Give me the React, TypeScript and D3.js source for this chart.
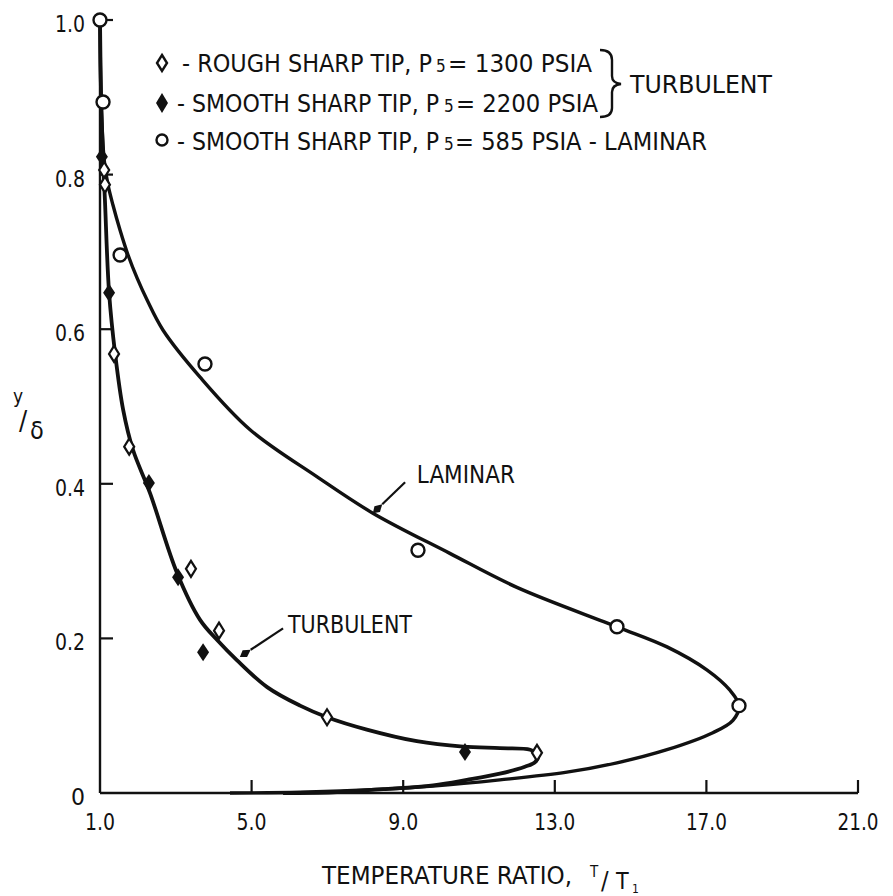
import React from "react";
import * as d3 from "d3";

// ---- axis ticks ----
const X_TICKS = [1, 5, 9, 13, 17, 21];
const X_TICK_LABELS = ["1.0", "5.0", "9.0", "13.0", "17.0", "21.0"];
const Y_TICKS = [0, 0.2, 0.4, 0.6, 0.8, 1.0];
const Y_TICK_LABELS = ["0", "0.2", "0.4", "0.6", "0.8", "1.0"];

// ---- faired curves: [T/T1, y/delta] ----
const laminarCurve: [number, number][] = [
  [1.0, 1.0], [1.03, 0.896], [1.11, 0.819], [1.21, 0.787], [1.34, 0.761],
  [1.53, 0.728], [1.74, 0.696], [1.98, 0.666], [2.24, 0.638], [2.66, 0.599],
  [3.64, 0.538], [4.96, 0.47], [6.73, 0.409], [8.2, 0.362], [10.23, 0.31],
  [12.0, 0.266], [14.64, 0.215], [15.96, 0.189], [17.02, 0.159], [17.62, 0.133],
  [17.86, 0.113], [17.7, 0.094], [17.17, 0.078], [15.96, 0.056], [14.64, 0.039],
  [13.32, 0.027], [11.55, 0.017], [9.79, 0.009], [8.47, 0.005], [6.28, 0.001],
  [4.43, 0.0],
];

const turbulentCurve: [number, number][] = [
  [1.0, 1.0], [1.03, 0.896], [1.08, 0.823], [1.13, 0.767], [1.24, 0.647],
  [1.4, 0.568], [1.61, 0.496], [1.87, 0.444], [2.32, 0.388], [3.03, 0.285],
  [3.64, 0.224], [4.11, 0.197], [4.61, 0.172], [5.41, 0.137], [6.28, 0.113],
  [6.99, 0.098], [8.04, 0.082], [9.36, 0.067], [10.58, 0.06], [11.55, 0.058],
  [12.35, 0.056], [12.56, 0.049], [12.48, 0.04], [12.21, 0.034], [11.55, 0.025],
  [10.68, 0.017], [9.79, 0.01], [8.47, 0.005], [7.15, 0.001], [5.83, 0.0],
];

// ---- data points ----
const laminarPoints: [number, number][] = [
  [1.0, 1.0], [1.08, 0.894], [1.53, 0.696], [3.77, 0.555], [9.39, 0.314],
  [14.64, 0.215], [17.86, 0.113],
];
const roughPoints: [number, number][] = [
  [1.11, 0.806], [1.13, 0.787], [1.37, 0.568], [1.77, 0.448], [3.4, 0.29],
  [4.14, 0.21], [6.99, 0.098], [12.53, 0.052],
];
const smoothTurbPoints: [number, number][] = [
  [1.05, 0.823], [1.24, 0.647], [2.29, 0.401], [3.06, 0.279], [3.72, 0.182],
  [10.63, 0.053],
];

// ---- legend text ----
const LEGEND_PRE = ["- ROUGH SHARP TIP, P", "- SMOOTH SHARP TIP, P", "- SMOOTH SHARP TIP, P"];
const LEGEND_SUB = ["5", "5", "5"];
const LEGEND_POST = ["= 1300 PSIA", "= 2200 PSIA", "= 585 PSIA - LAMINAR"];
const LEGEND_KIND = ["rough", "smooth", "laminar"];
const BRACE_LABEL = "TURBULENT";

const FONT = "'DejaVu Sans Condensed', 'Liberation Sans Narrow', 'DejaVu Sans', sans-serif";
const INK = "#111";

const W = 893;
const H = 896;

export default function App() {
  const x = d3.scaleLinear().domain([1, 21]).range([100, 858]);
  const y = d3.scaleLinear().domain([0, 1]).range([793, 20]);

  const line = d3
    .line<[number, number]>()
    .x((d) => x(d[0]))
    .y((d) => y(d[1]))
    .curve(d3.curveCatmullRom.alpha(0.5));

  const diamond = (hw: number, hh: number) =>
    `M0,${-hh} L${hw},0 L0,${hh} L${-hw},0 Z`;

  const arrow = (x1: number, y1: number, x2: number, y2: number, key: string) => {
    const dx = x2 - x1;
    const dy = y2 - y1;
    const L = Math.hypot(dx, dy);
    const ux = dx / L;
    const uy = dy / L;
    const px = -uy;
    const py = ux;
    const b1x = x2 - ux * 6;
    const b1y = y2 - uy * 6;
    const tx = x2 - ux * 13;
    const ty = y2 - uy * 13;
    const head = `M${x2},${y2} L${b1x + px * 4},${b1y + py * 4} L${tx},${ty} L${b1x - px * 4},${b1y - py * 4} Z`;
    return (
      <g key={key}>
        <line x1={x1} y1={y1} x2={tx} y2={ty} stroke={INK} strokeWidth={2.2} />
        <path d={head} fill={INK} />
      </g>
    );
  };

  // layout of the legend rows (pixels)
  const legendLayout = [
    { cy: 63, base: 72, preX: 182, preL: 250, subX: 436, postX: 448, postL: 144 },
    { cy: 103, base: 112, preX: 177, preL: 262, subX: 444, postX: 456, postL: 142 },
    { cy: 140, base: 150, preX: 177, preL: 262, subX: 444, postX: 455, postL: 252 },
  ];

  const tickLen = (s: string) => (s.length === 1 ? 14 : s.length === 3 ? 30 : 41);

  return (
    <svg
      width={W}
      height={H}
      viewBox={`0 0 ${W} ${H}`}
      style={{ position: "absolute", left: 0, top: 0, background: "#fff", display: "block" }}
      fontFamily={FONT}
    >
      <rect x={0} y={0} width={W} height={H} fill="#fff" />

      {/* axes */}
      <line x1={x(1)} y1={y(0)} x2={x(21)} y2={y(0)} stroke={INK} strokeWidth={2.6} />
      <line x1={x(1)} y1={y(0)} x2={x(1)} y2={y(1)} stroke={INK} strokeWidth={2.4} />
      {X_TICKS.slice(1).map((t) => (
        <line key={"xt" + t} x1={x(t)} x2={x(t)} y1={y(0)} y2={y(0) - 13} stroke={INK} strokeWidth={2.2} />
      ))}
      {Y_TICKS.slice(1).map((t) => (
        <line key={"yt" + t} x1={x(1)} x2={x(1) + 13} y1={y(t)} y2={y(t)} stroke={INK} strokeWidth={2.2} />
      ))}
      {X_TICKS.map((t, i) => (
        <text key={"xl" + t} x={x(t) - tickLen(X_TICK_LABELS[i]) / 2} y={830} fontSize={23} fill={INK}
          textLength={tickLen(X_TICK_LABELS[i])} lengthAdjust="spacingAndGlyphs">
          {X_TICK_LABELS[i]}
        </text>
      ))}
      {Y_TICKS.map((t, i) => (
        <text key={"yl" + t} x={85 - tickLen(Y_TICK_LABELS[i])} y={y(t) + 12} fontSize={23} fill={INK}
          textLength={tickLen(Y_TICK_LABELS[i])} lengthAdjust="spacingAndGlyphs">
          {Y_TICK_LABELS[i]}
        </text>
      ))}

      {/* axis titles */}
      <text x={322} y={884} fontSize={25} fill={INK} textLength={250} lengthAdjust="spacingAndGlyphs">
        TEMPERATURE RATIO,
      </text>
      <text x={590} y={877} fontSize={15} fill={INK}>T</text>
      <text x={601} y={889} fontSize={25} fill={INK}>/</text>
      <text x={616} y={889} fontSize={23} fill={INK}>T</text>
      <text x={632} y={893} fontSize={12} fill={INK}>1</text>

      <text x={13} y={403} fontSize={19} fill={INK}>y</text>
      <text x={19} y={430} fontSize={27} fill={INK}>/</text>
      <text x={30} y={439} fontSize={25} fill={INK}>δ</text>

      {/* curves */}
      <path d={line(turbulentCurve) || ""} fill="none" stroke={INK} strokeWidth={3.8} strokeLinejoin="round" />
      <path d={line(laminarCurve) || ""} fill="none" stroke={INK} strokeWidth={3.4} strokeLinejoin="round" />

      {/* markers */}
      {smoothTurbPoints.map((d, i) => (
        <path key={"s" + i} d={diamond(6, 9)} transform={`translate(${x(d[0])},${y(d[1])})`} fill={INK} />
      ))}
      {roughPoints.map((d, i) => (
        <path key={"r" + i} d={diamond(5, 8)} transform={`translate(${x(d[0])},${y(d[1])})`} fill="#fff" stroke={INK} strokeWidth={2.2} />
      ))}
      {laminarPoints.map((d, i) => (
        <circle key={"l" + i} cx={x(d[0])} cy={y(d[1])} r={6.5} fill="#fff" stroke={INK} strokeWidth={2.4} />
      ))}

      {/* annotations */}
      <text x={x(9.36)} y={y(0.401)} fontSize={24} fill={INK} textLength={98} lengthAdjust="spacingAndGlyphs">LAMINAR</text>
      {arrow(x(9.05), y(0.402), x(8.2), y(0.362), "la")}
      <text x={x(5.96)} y={y(0.207)} fontSize={24} fill={INK} textLength={124} lengthAdjust="spacingAndGlyphs">TURBULENT</text>
      {arrow(x(5.83), y(0.213), x(4.69), y(0.176), "ta")}

      {/* legend */}
      {legendLayout.map((l, i) => (
        <g key={"lg" + i}>
          {LEGEND_KIND[i] === "rough" && (
            <path d={diamond(5, 8)} transform={`translate(162,${l.cy})`} fill="#fff" stroke={INK} strokeWidth={2.4} />
          )}
          {LEGEND_KIND[i] === "smooth" && (
            <path d={diamond(6, 10)} transform={`translate(162,${l.cy})`} fill={INK} />
          )}
          {LEGEND_KIND[i] === "laminar" && (
            <circle cx={162} cy={l.cy} r={5.5} fill="#fff" stroke={INK} strokeWidth={2.4} />
          )}
          <text x={l.preX} y={l.base} fontSize={25} fill={INK} textLength={l.preL} lengthAdjust="spacingAndGlyphs">
            {LEGEND_PRE[i]}
          </text>
          <text x={l.subX} y={l.base} fontSize={17} fill={INK}>{LEGEND_SUB[i]}</text>
          <text x={l.postX} y={l.base} fontSize={25} fill={INK} textLength={l.postL} lengthAdjust="spacingAndGlyphs">
            {LEGEND_POST[i]}
          </text>
        </g>
      ))}
      <path
        d="M600,50 Q612,50 612,60 L612,76 Q612,83 621,84 Q612,85 612,92 L612,108 Q612,117 600,117"
        fill="none"
        stroke={INK}
        strokeWidth={2.4}
      />
      <text x={630} y={93} fontSize={25} fill={INK} textLength={142} lengthAdjust="spacingAndGlyphs">{BRACE_LABEL}</text>
    </svg>
  );
}
